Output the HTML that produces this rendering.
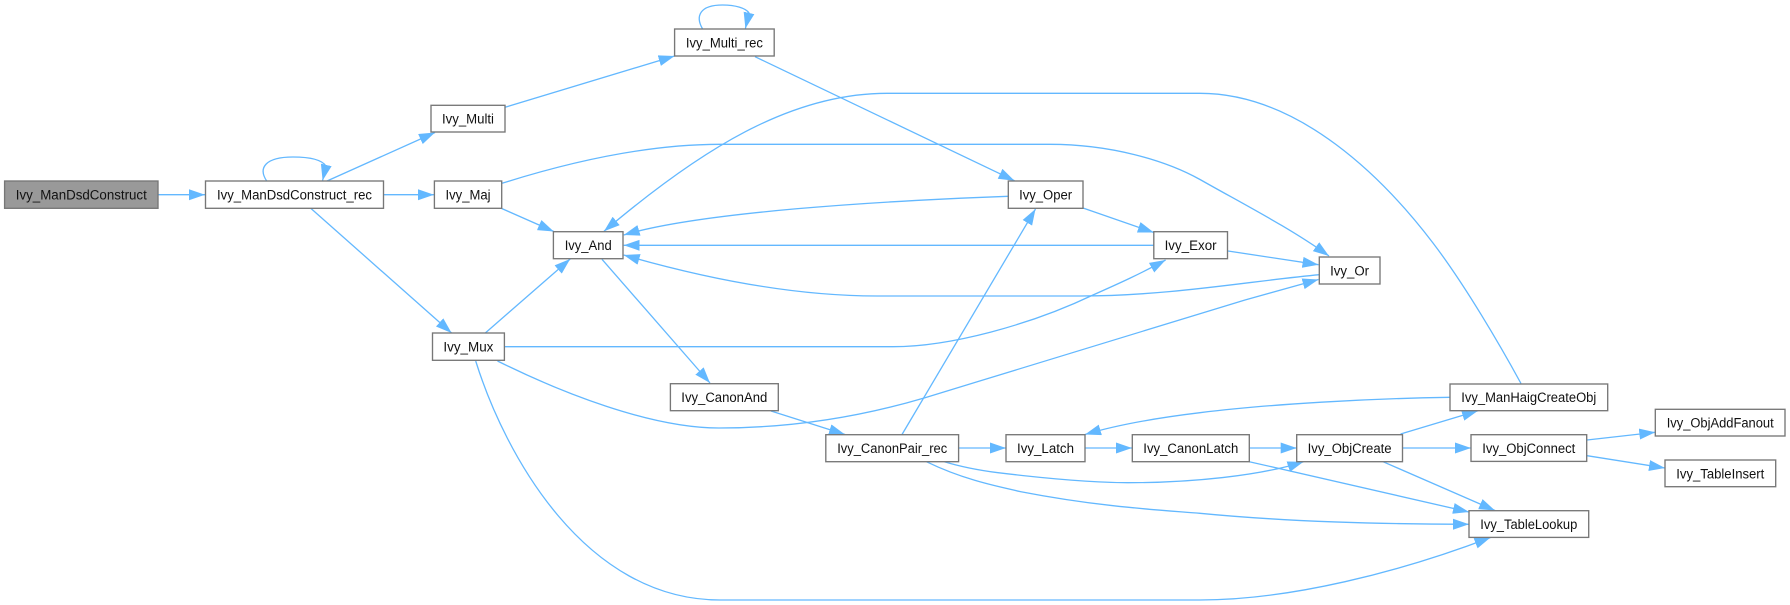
<!DOCTYPE html>
<html><head><meta charset="utf-8"><title>Ivy_ManDsdConstruct call graph</title>
<style>
html,body{margin:0;padding:0;background:#fff;width:1790px;height:605px;overflow:hidden}
svg{display:block;filter:blur(0.35px)}
.n rect{fill:#fff;stroke:#777;stroke-width:1.35}
.n text{font-family:"Liberation Sans",sans-serif;font-size:13.4px;fill:#111;text-anchor:middle}
.e path{fill:none;stroke:#63b8ff;stroke-width:1.3;marker-end:url(#a)}
</style></head><body>
<svg width="1790" height="605" viewBox="0 0 1790 605" xmlns="http://www.w3.org/2000/svg">
<defs><marker id="a" markerUnits="userSpaceOnUse" markerWidth="17" markerHeight="12" refX="16" refY="5.5" orient="auto"><polygon points="0,0 16,5.5 0,11" fill="#63b8ff"/></marker></defs>
<g class="e">
<path d="M158,194.7 L205,194.7"/>
<path d="M266.7,181 C 258,168 265,157 293,157 C 310,157 322,160 326,166 L322.6,180.5"/>
<path d="M327,181 L435,132.5"/>
<path d="M383.5,194.7 L434,194.7"/>
<path d="M311,208.5 L451.6,333"/>
<path d="M501.7,208.5 L553.8,231.5"/>
<path d="M485.3,333 L570.2,259"/>
<path d="M505,107.3 L674.6,56"/>
<path d="M702.6,29 C 695,16 700,5 722.5,5 C 735,5 746,8 749,13 L745.4,28.5"/>
<path d="M755,56.7 L1014.5,180.7"/>
<path d="M502,183.3 C 560,165 640,144.3 720,144.3 L1050,144.3 C 1110,144.3 1165,160 1200,179.5 C 1245,205 1290,228 1329,256"/>
<path d="M1521,383.5 C 1500,345 1465,285 1433,243 C 1385,180 1300,93.3 1200,93.3 L887,93.3 C 790,93.3 700,150 604,231.3"/>
<path d="M1008,196.3 C 880,201 700,212 623.7,235"/>
<path d="M1083,208 L1153.8,232.5"/>
<path d="M1153.8,245.3 L623.7,245.3"/>
<path d="M1319.5,274.7 C 1250,281 1170,296 1080,296 L877,296 C 790,296 700,277 623.7,255"/>
<path d="M1228,251 L1318.5,264.7"/>
<path d="M497.5,361 C 560,392 650,428 719,428 C 800,428 870,414 925,397.7 C 1050,360 1150,328 1245,300 L1318.5,279.5"/>
<path d="M504.4,346.7 L893,346.7 C 950,346.7 1030,325 1093,295 C 1120,283 1140,274 1165.6,260"/>
<path d="M602,259.3 L710,383"/>
<path d="M771,411 L845,434.5"/>
<path d="M902,434.5 L1035.5,209"/>
<path d="M958.6,448 L1006,448"/>
<path d="M1085,448 L1132,448"/>
<path d="M1249.3,448 L1296.7,448"/>
<path d="M944.4,461.7 C 965,468 985,471 998,472.7 C 1050,479 1095,482.7 1128,482.7 C 1190,482.7 1260,476 1303.5,461.7"/>
<path d="M926.4,461.7 C 960,478 990,485 1021,491.7 C 1100,507 1160,510 1200,513.3 C 1290,522 1380,524 1469,524.3"/>
<path d="M1249.3,461.7 L1469,512"/>
<path d="M1383,461.7 L1495,510.5"/>
<path d="M1400.6,434 L1478,410.8"/>
<path d="M1402.5,448 L1471,448"/>
<path d="M1587,440 L1655.3,432.3"/>
<path d="M1587,455.7 L1665,468"/>
<path d="M1450,397.3 C 1370,398.5 1270,404 1200,412.7 C 1160,417.5 1120,424 1085,434.5"/>
<path d="M475.7,361 C 505,455 585,600 720,600 L1200,600 C 1290,600 1400,572 1490.5,537.5"/>
</g>
<g class="n">
<rect x="4.6" y="181" width="153.4" height="27.3" style="fill:#999"/><text x="81.3" y="199.5" textLength="131" lengthAdjust="spacingAndGlyphs">Ivy_ManDsdConstruct</text>
<rect x="205.5" y="181" width="178" height="27.3"/><text x="294.5" y="199.5" textLength="155" lengthAdjust="spacingAndGlyphs">Ivy_ManDsdConstruct_rec</text>
<rect x="431" y="105.3" width="74" height="26.7"/><text x="468" y="123.5" textLength="52" lengthAdjust="spacingAndGlyphs">Ivy_Multi</text>
<rect x="434.4" y="181" width="67.3" height="27.3"/><text x="468" y="199.5" textLength="45" lengthAdjust="spacingAndGlyphs">Ivy_Maj</text>
<rect x="553.4" y="231.7" width="69.6" height="27"/><text x="588.2" y="250" textLength="47" lengthAdjust="spacingAndGlyphs">Ivy_And</text>
<rect x="674.6" y="29" width="99.6" height="27"/><text x="724.4" y="47.5" textLength="77" lengthAdjust="spacingAndGlyphs">Ivy_Multi_rec</text>
<rect x="1008.3" y="181" width="74.7" height="27.3"/><text x="1045.6" y="199.5" textLength="53" lengthAdjust="spacingAndGlyphs">Ivy_Oper</text>
<rect x="1153.8" y="231.7" width="73.7" height="27"/><text x="1190.6" y="250" textLength="52" lengthAdjust="spacingAndGlyphs">Ivy_Exor</text>
<rect x="1319.3" y="257" width="60.7" height="27"/><text x="1349.6" y="275.5" textLength="39" lengthAdjust="spacingAndGlyphs">Ivy_Or</text>
<rect x="432.5" y="333" width="71.9" height="27.3"/><text x="468.4" y="351.5" textLength="50" lengthAdjust="spacingAndGlyphs">Ivy_Mux</text>
<rect x="670.4" y="383.7" width="107.9" height="27"/><text x="724.3" y="402" textLength="86" lengthAdjust="spacingAndGlyphs">Ivy_CanonAnd</text>
<rect x="825.8" y="434.7" width="132.8" height="27"/><text x="892.2" y="453" textLength="110" lengthAdjust="spacingAndGlyphs">Ivy_CanonPair_rec</text>
<rect x="1006" y="434.7" width="79" height="27"/><text x="1045.5" y="453" textLength="57" lengthAdjust="spacingAndGlyphs">Ivy_Latch</text>
<rect x="1132.3" y="434.7" width="117" height="27"/><text x="1190.8" y="453" textLength="95" lengthAdjust="spacingAndGlyphs">Ivy_CanonLatch</text>
<rect x="1296.7" y="434.7" width="105.8" height="27"/><text x="1349.6" y="453" textLength="84" lengthAdjust="spacingAndGlyphs">Ivy_ObjCreate</text>
<rect x="1450" y="384" width="157.7" height="26.7"/><text x="1528.8" y="402" textLength="135" lengthAdjust="spacingAndGlyphs">Ivy_ManHaigCreateObj</text>
<rect x="1471" y="434.7" width="115.7" height="26.7"/><text x="1528.8" y="453" textLength="93" lengthAdjust="spacingAndGlyphs">Ivy_ObjConnect</text>
<rect x="1655.3" y="409.3" width="129.7" height="26.7"/><text x="1720.2" y="427.5" textLength="107" lengthAdjust="spacingAndGlyphs">Ivy_ObjAddFanout</text>
<rect x="1665" y="460" width="110.7" height="26.7"/><text x="1720.3" y="478.5" textLength="88" lengthAdjust="spacingAndGlyphs">Ivy_TableInsert</text>
<rect x="1469" y="510.7" width="119.7" height="26.7"/><text x="1528.8" y="529" textLength="97" lengthAdjust="spacingAndGlyphs">Ivy_TableLookup</text>
</g>
</svg>
</body></html>
